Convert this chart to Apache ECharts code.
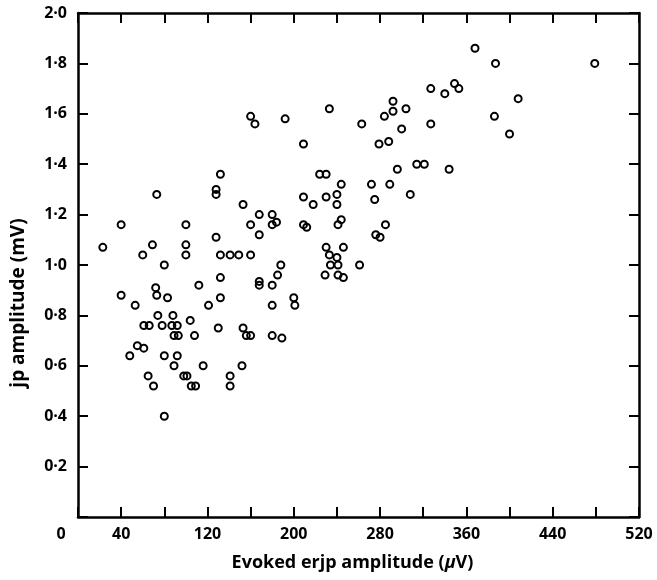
<!DOCTYPE html>
<html>
<head>
<meta charset="utf-8">
<script src="https://cdn.jsdelivr.net/npm/echarts@6/dist/echarts.min.js"></script>
<style>
html,body{margin:0;padding:0;background:#fff;}
#chart{width:657px;height:580px;}
</style>
</head>
<body>
<div id="chart"></div>
<script>
// Evoked erjp amplitude (µV)
var xValues = [160,164,192,233,209,132,224,230,73,128,128,244,209,230,240,153,218,240,40,100,168,180,160,180,184,209,212,244,241,128,168,23,69,100,60,100,132,141,149,160,80,188,230,233,240,246,234,241,261,229,241,246,132,185,72,112,168,168,180,40,73,83,132,200,53,121,180,201,74,88,104,61,66,78,87,92,89,93,108,130,153,156,160,180,189,55,61,48,80,92,89,116,152,65,70,98,101,105,109,141,141,80,368,387,479,349,353,327,340,408,292,304,292,284,386,263,327,300,400,288,279,314,321,296,344,272,289,275,308,285,276,280];
// jp amplitude (mV)
var yValues = [1.59,1.56,1.58,1.62,1.48,1.36,1.36,1.36,1.28,1.30,1.28,1.32,1.27,1.27,1.28,1.24,1.24,1.24,1.16,1.16,1.20,1.20,1.16,1.16,1.17,1.16,1.15,1.18,1.16,1.11,1.12,1.07,1.08,1.08,1.04,1.04,1.04,1.04,1.04,1.04,1.00,1.00,1.07,1.04,1.03,1.07,1.00,1.00,1.00,0.96,0.96,0.95,0.95,0.96,0.91,0.92,0.935,0.92,0.92,0.88,0.88,0.87,0.87,0.87,0.84,0.84,0.84,0.84,0.80,0.80,0.78,0.76,0.76,0.76,0.76,0.76,0.72,0.72,0.72,0.75,0.75,0.72,0.72,0.72,0.71,0.68,0.67,0.64,0.64,0.64,0.60,0.60,0.60,0.56,0.52,0.56,0.56,0.52,0.52,0.56,0.52,0.40,1.86,1.80,1.80,1.72,1.70,1.70,1.68,1.66,1.65,1.62,1.61,1.59,1.59,1.56,1.56,1.54,1.52,1.49,1.48,1.40,1.40,1.38,1.38,1.32,1.32,1.26,1.28,1.16,1.12,1.11];
// tick labels
var xLabelValues = [0,40,120,200,280,360,440,520];
var xAxisTitle = 'Evoked erjp amplitude (';
var yAxisTitle = 'jp amplitude (mV)';

var points = xValues.map(function(x,i){ return [x, yValues[i]]; });

var FONT = '"Open Sans", Lato, "DejaVu Sans", sans-serif';
var lineStyle = {color:'#000', width:2.5};
var tickStyle = {show:true, inside:true, length:10, lineStyle:{color:'#000', width:2}};

var chart = echarts.init(document.getElementById('chart'), null, {renderer:'canvas'});
chart.setOption({
  animation:false,
  backgroundColor:'#fff',
  grid:{left:78, right:18, top:13, bottom:63},
  xAxis:[{
    type:'value', min:0, max:520, interval:40, position:'bottom',
    axisLine:{show:true, onZero:false, lineStyle:lineStyle},
    axisTick:tickStyle,
    splitLine:{show:false},
    axisLabel:{
      margin:9, fontSize:16, fontWeight:'bold', color:'#000', fontFamily:FONT,
      showMinLabel:true, showMaxLabel:true,
      formatter:function(v){
        if (v === 0) return '{z|0}';
        return xLabelValues.indexOf(v) >= 0 ? String(v) : '';
      },
      rich:{z:{fontSize:16, fontWeight:'bold', color:'#000', fontFamily:FONT, padding:[0,34,0,0]}}
    },
    name:'{n|' + xAxisTitle + '}{i|\u03bc}{n|V)}',
    nameLocation:'middle', nameGap:37,
    nameTextStyle:{
      rich:{
        n:{fontSize:18, fontWeight:'bold', color:'#000', fontFamily:FONT},
        i:{fontSize:18, fontWeight:'bold', fontStyle:'italic', color:'#000', fontFamily:FONT}
      },
      padding:[0,12,0,0]
    }
  },{
    type:'value', min:0, max:520, interval:40, position:'top',
    axisLine:{show:true, onZero:false, lineStyle:lineStyle},
    axisTick:tickStyle, axisLabel:{show:false}, splitLine:{show:false}
  }],
  yAxis:[{
    type:'value', min:0, max:2, interval:0.2, position:'left',
    axisLine:{show:true, onZero:false, lineStyle:lineStyle},
    axisTick:tickStyle,
    splitLine:{show:false},
    axisLabel:{
      margin:11, fontSize:16, fontWeight:'bold', color:'#000', fontFamily:FONT,
      formatter:function(v){ return v === 0 ? '' : v.toFixed(1).replace('.', '\u00b7'); }
    },
    name:yAxisTitle, nameLocation:'middle', nameGap:50,
    nameTextStyle:{fontSize:19, fontWeight:'bold', color:'#000', fontFamily:FONT, padding:[0,76,0,0]}
  },{
    type:'value', min:0, max:2, interval:0.2, position:'right',
    axisLine:{show:true, onZero:false, lineStyle:lineStyle},
    axisTick:tickStyle, axisLabel:{show:false}, splitLine:{show:false}
  }],
  series:[{
    type:'scatter',
    xAxisIndex:0, yAxisIndex:0,
    data:points,
    symbol:'circle', symbolSize:7,
    itemStyle:{color:'rgba(0,0,0,0)', borderColor:'#000', borderWidth:2, opacity:1},
    emphasis:{disabled:true}
  }]
});
</script>
</body>
</html>
